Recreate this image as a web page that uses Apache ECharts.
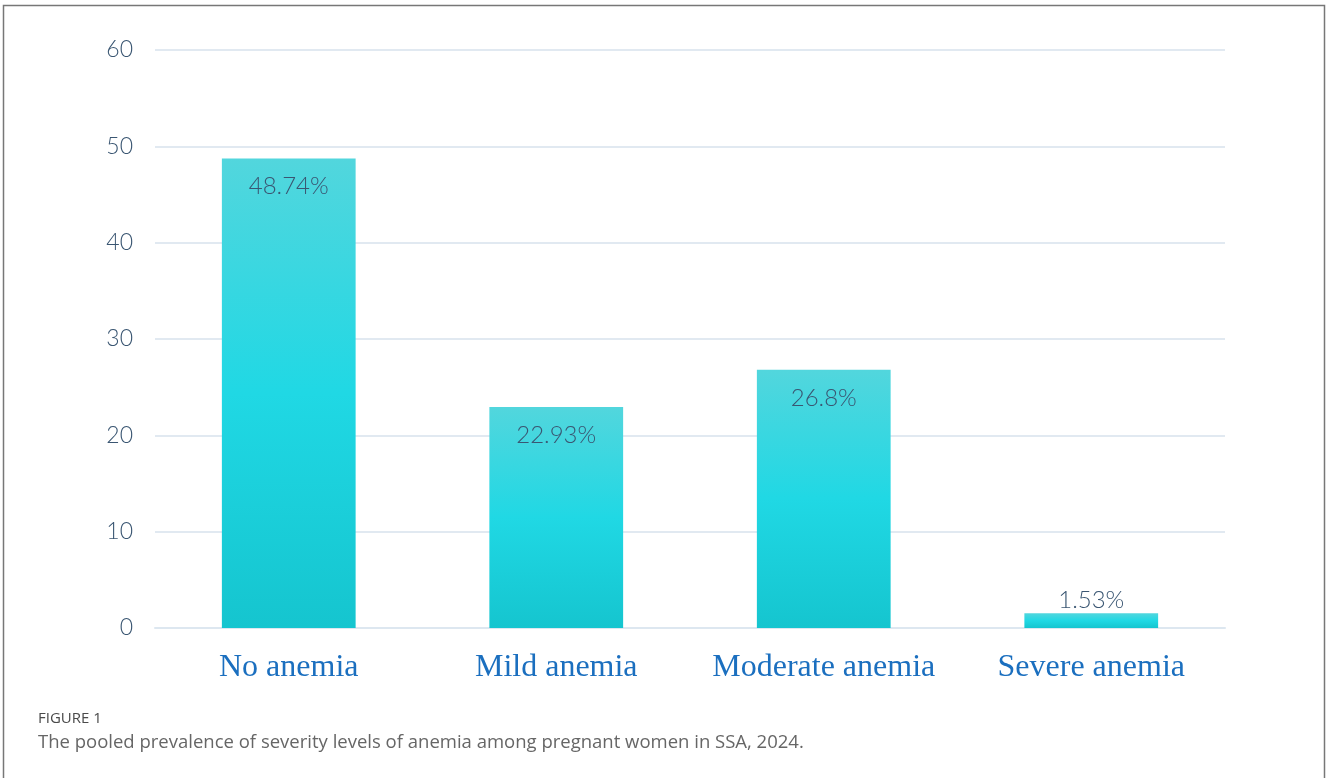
<!DOCTYPE html>
<html>
<head>
<meta charset="utf-8">
<script src="https://cdn.jsdelivr.net/npm/echarts@6/dist/echarts.min.js"></script>
<style>
html,body{margin:0;padding:0;background:#fff;}
#chart{width:1328px;height:778px;}
</style>
</head>
<body>
<div id="chart"></div>
<script>
const categories = ["No anemia", "Mild anemia", "Moderate anemia", "Severe anemia"];
const values = [48.74, 22.93, 26.8, 1.53];
const labels = ["48.74%", "22.93%", "26.8%", "1.53%"];
const yTicks = [0, 10, 20, 30, 40, 50, 60];

const chart = echarts.init(document.getElementById('chart'), null, {renderer: 'canvas'});
const grad = new echarts.graphic.LinearGradient(0, 0, 0, 1, [
  {offset: 0, color: '#52d6dd'},
  {offset: 0.5, color: '#20d8e4'},
  {offset: 1, color: '#15c5cf'}
]);
chart.setOption({
  animation: false,
  grid: {left: 155, right: 103, top: 50, bottom: 150},
  xAxis: {
    type: 'category',
    data: categories,
    axisLine: {lineStyle: {color: '#dde7f0', width: 2}},
    axisTick: {show: false},
    axisLabel: {interval: 0, fontFamily: 'Liberation Serif', fontSize: 32, color: '#1b6fbf', margin: 24}
  },
  yAxis: {
    type: 'value',
    min: yTicks[0], max: yTicks[yTicks.length - 1], interval: 10,
    axisLine: {show: false},
    axisTick: {show: false},
    splitLine: {lineStyle: {color: '#e1e9f1', width: 2}},
    axisLabel: {fontFamily: 'Lato', fontWeight: 300, fontSize: 23, color: '#3a5672', margin: 22}
  },
  series: [{
    type: 'bar',
    barWidth: '50%',
    data: values.map((v, i) => ({
      value: v,
      label: i === 3 ? {position: 'top', distance: 1} : {}
    })),
    itemStyle: {color: grad},
    label: {
      show: true,
      position: 'insideTop',
      distance: 16,
      fontFamily: 'Lato',
      fontWeight: 300,
      fontSize: 24,
      color: '#3a5672',
      formatter: p => labels[p.dataIndex]
    }
  }],
  graphic: [
    {type: 'rect', shape: {x: 3.5, y: 5.5, width: 1321, height: 800}, style: {fill: 'none', stroke: '#777', lineWidth: 1.5}},
    {type: 'text', left: 38, top: 711, style: {text: 'FIGURE 1', font: '15px "Open Sans"', fill: '#4a4a4a'}},
    {type: 'text', left: 38, top: 733, style: {text: 'The pooled prevalence of severity levels of anemia among pregnant women in SSA, 2024.', font: '18.5px "Open Sans"', fill: '#666'}}
  ]
});
</script>
</body>
</html>
